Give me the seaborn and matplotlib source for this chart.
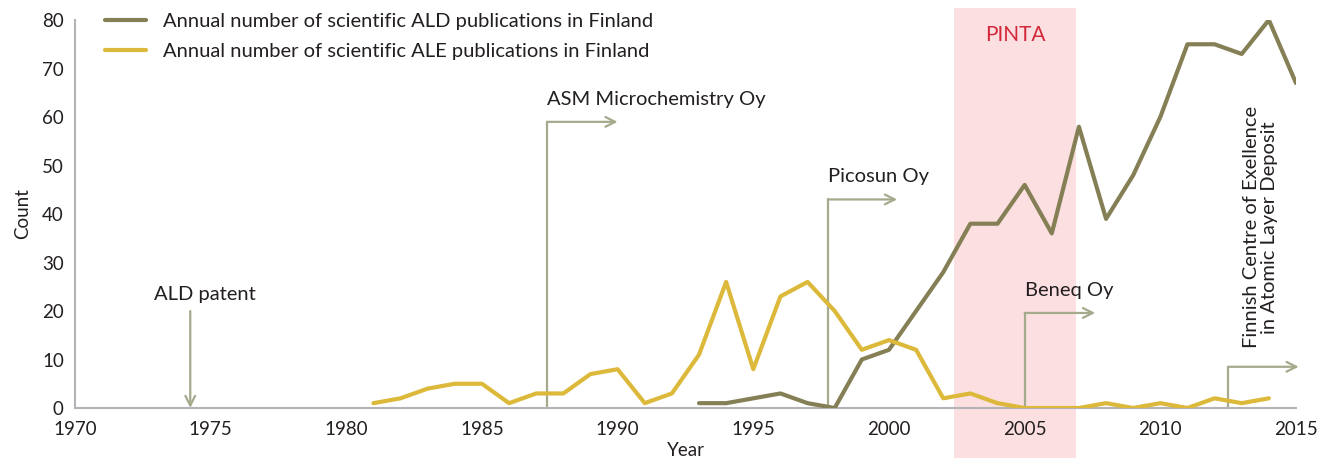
import numpy as np
import pandas as pd
import matplotlib
matplotlib.use('Agg')
import matplotlib.pyplot as plt
import seaborn as sns

# Data
ale_years = list(range(1981, 2015))
ale_counts = [1, 2, 4, 5, 5, 1, 3, 3, 7, 8, 1, 3, 11, 26, 8, 23, 26, 20, 12, 14,
              12, 2, 3, 1, 0, 0, 0, 1, 0, 1, 0, 2, 1, 2]

ald_years = list(range(1993, 2016))
ald_counts = [1, 1, 2, 3, 1, 0, 10, 12, 20, 28, 38, 38, 46, 36, 58, 39, 48, 60,
              75, 75, 73, 80, 67]

# Milestones: (label, year of vertical line, height of line, arrow end year)
milestones = [
    ('ASM Microchemistry Oy', 1987.4, 59, 1990.0),
    ('Picosun Oy', 1997.75, 43, 2000.3),
    ('Beneq Oy', 2005.0, 19.6, 2007.6),
]
pinta_start, pinta_end = 2002.4, 2006.9

ald_color = '#857f56'
ale_color = '#dcb93a'
note_color = '#a6aa8d'
text_color = '#231f20'
axis_color = '#b4b4b8'

sns.set_style('white')
plt.rcParams['font.family'] = ['Lato', 'DejaVu Sans']

fig = plt.figure(figsize=(13.38, 4.73), dpi=100)
ax = fig.add_axes([0.056, 0.1374, 0.9126, 0.8203])

# PINTA band
ax.axvspan(pinta_start, pinta_end, ymin=-0.13, ymax=1.03, color='#fcdfe0',
           lw=0, clip_on=False, zorder=0)
ax.text((pinta_start + pinta_end) / 2, 77, 'PINTA', color='#d3283a',
        ha='center', va='center', fontsize=15)

df_ald = pd.DataFrame({'Year': ald_years, 'Count': ald_counts})
df_ale = pd.DataFrame({'Year': ale_years, 'Count': ale_counts})
sns.lineplot(data=df_ald, x='Year', y='Count', ax=ax, color=ald_color, lw=3,
             solid_joinstyle='round', solid_capstyle='round', zorder=3,
             label='Annual number of scientific ALD publications in Finland')
sns.lineplot(data=df_ale, x='Year', y='Count', ax=ax, color=ale_color, lw=3,
             solid_joinstyle='round', solid_capstyle='round', zorder=3,
             label='Annual number of scientific ALE publications in Finland')

arrow_props = dict(arrowstyle='->,head_length=0.7,head_width=0.35',
                   color=note_color, lw=1.6, shrinkA=0, shrinkB=0)

# ALD patent arrow (pointing down)
ax.annotate('', xy=(1974.25, 0), xytext=(1974.25, 20), arrowprops=arrow_props)
ax.text(1974.8, 23.5, 'ALD patent', ha='center', va='center', fontsize=14.5,
        color=text_color)

# company milestones
for label, x0, h, x1 in milestones:
    ax.plot([x0, x0], [0, h], color=note_color, lw=1.6, zorder=2)
    ax.annotate('', xy=(x1, h), xytext=(x0, h), arrowprops=arrow_props)
    ax.text(x0, h + 4.7, label, ha='left', va='center', fontsize=14.5,
            color=text_color)

# Centre of Excellence
ax.plot([2012.5, 2012.5], [0, 8.5], color=note_color, lw=1.6, zorder=2)
ax.annotate('', xy=(2015.1, 8.5), xytext=(2012.5, 8.5), arrowprops=arrow_props,
            annotation_clip=False)
ax.text(2013.7, 12.3, 'Finnish Centre of Exellence\nin Atomic Layer Deposit',
        rotation=90, ha='center', va='bottom', fontsize=14.5, color=text_color,
        linespacing=1.05, clip_on=False)

ax.set_xlim(1970, 2015)
ax.set_ylim(0, 80)
ax.set_xticks(range(1970, 2016, 5))
ax.set_yticks(range(0, 81, 10))
ax.set_xlabel('Year', fontsize=13.5, color=text_color, labelpad=3)
ax.set_ylabel('Count', fontsize=13.5, color=text_color, labelpad=8)

for side in ['top', 'right']:
    ax.spines[side].set_visible(False)
for side in ['left', 'bottom']:
    ax.spines[side].set_color(axis_color)
    ax.spines[side].set_linewidth(1.5)
ax.tick_params(axis='both', colors=axis_color, labelcolor=text_color,
               labelsize=13.5, length=5, width=1.2, direction='out')
ax.tick_params(axis='x', pad=4)
ax.tick_params(axis='y', pad=3)

leg = ax.legend(loc='upper left', bbox_to_anchor=(0.01, 1.065), frameon=False,
                fontsize=14.5, handlelength=2.0, handletextpad=0.85,
                labelspacing=0.62, labelcolor=text_color)

fig.savefig('out.png', dpi=100)
